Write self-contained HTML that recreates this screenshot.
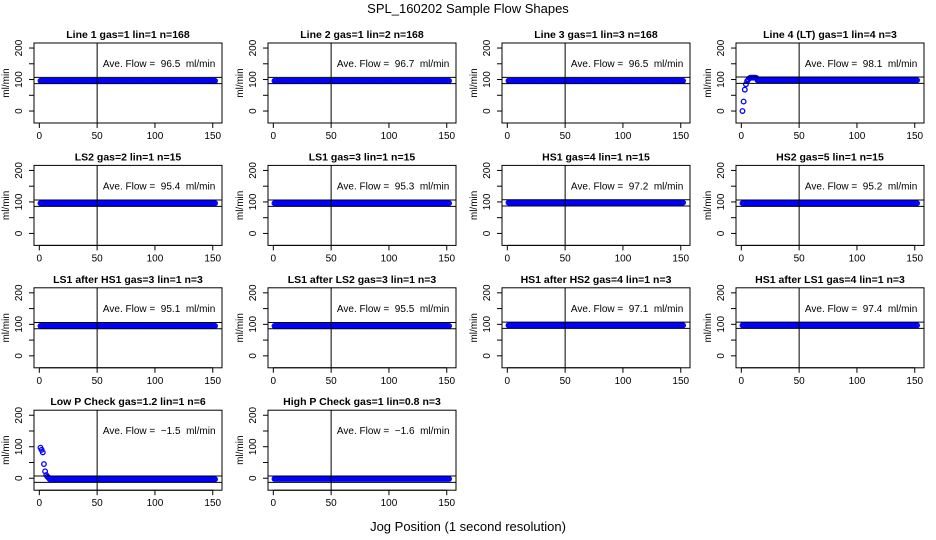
<!DOCTYPE html>
<html><head><meta charset="utf-8"><style>
html,body{margin:0;padding:0;background:#fff;}
svg{display:block;font-family:"Liberation Sans",sans-serif;}
</style></head><body>
<svg id="chart" width="936" height="540" viewBox="0 0 936 540">
<text x="468" y="13" text-anchor="middle" font-size="13">SPL_160202  Sample Flow Shapes</text>
<text x="468" y="531" text-anchor="middle" font-size="13">Jog Position (1 second resolution)</text>
</svg>
<script>
// panel titles
const titles = ["Line 1 gas=1 lin=1 n=168","Line 2 gas=1 lin=2 n=168","Line 3 gas=1 lin=3 n=168","Line 4 (LT) gas=1 lin=4 n=3",
"LS2 gas=2 lin=1 n=15","LS1 gas=3 lin=1 n=15","HS1 gas=4 lin=1 n=15","HS2 gas=5 lin=1 n=15",
"LS1 after HS1 gas=3 lin=1 n=3","LS1 after LS2 gas=3 lin=1 n=3","HS1 after HS2 gas=4 lin=1 n=3","HS1 after LS1 gas=4 lin=1 n=3",
"Low P Check gas=1.2 lin=1 n=6","High P Check gas=1 lin=0.8 n=3"];
// average flow printed values
const aves = [96.5,96.7,96.5,98.1,95.4,95.3,97.2,95.2,95.1,95.5,97.1,97.4,-1.5,-1.6];
// startup (head) values for each panel, then steady level
const heads = [[],[],[],[0,30,68,85,95,100,104,106,106,106,106,106,105],[],[],[],[],[],[],[],[],[97,90,82,45,22,10,5,2],[]];
const levels = [96,96,96,98,96,96,98,96,95,95,97,97,-3,-2];
// reference band lines
const bandHi = [107,107,107,108,106,106,107,106,106,106,107,107,7,7];
const bandLo = [87,87,87,88,86,86,87,86,86,86,87,87,-13,-13];
const nPoints = 152;
const xTicks = [0,50,100,150];
const yTicks = [0,50,100,150,200];
const yLabels = [0,100,200];

const svg = document.getElementById('chart');
const NS = 'http://www.w3.org/2000/svg';
function mk(tag, attrs, parent){const e=document.createElementNS(NS,tag);for(const k in attrs)e.setAttribute(k,attrs[k]);(parent||svg).appendChild(e);return e;}

const X0=-4.6,X1=158,Y0=-38,Y1=216;
titles.forEach((t,i)=>{
  const col=i%4,row=Math.floor(i/4);
  const L=34+col*234,R=222+col*234,T=43+row*122.4,B=123+row*122.4;
  const sx=v=>L+(v-X0)/(X1-X0)*(R-L);
  const sy=v=>B-(v-Y0)/(Y1-Y0)*(B-T);
  const g=mk('g',{});
  
  
  const tt=mk('text',{x:(L+R)/2,y:T-5,'text-anchor':'middle','font-size':'10.5','font-weight':'bold'},g);
  tt.textContent=t;
  
  
  const vals=heads[i].concat(Array(nPoints-heads[i].length).fill(levels[i]));
  const pg=mk('g',{fill:'none',stroke:'#0000ff','stroke-width':'1.3'},g);
  
  
  vals.forEach((v,k)=>{
    const c=mk('circle',{cx:sx(k+1),cy:sy(v),r:2.3},pg);
    
    
  });
  [bandHi[i],bandLo[i]].forEach(v=>{
    const l=mk('line',{x1:L,x2:R,y1:sy(v),y2:sy(v),stroke:'#000','stroke-width':'1'},g);
    
    
  });
  const vl=mk('line',{x1:sx(50),x2:sx(50),y1:T,y2:B,stroke:'#000','stroke-width':'1'},g);
  
  
  const box=mk('rect',{x:L,y:T,width:R-L,height:B-T,fill:'none',stroke:'#000','stroke-width':'1'},g);
  
  
  xTicks.forEach(v=>{
    mk('line',{x1:sx(v),x2:sx(v),y1:B,y2:B+5,stroke:'#000'},g);
    const tx=mk('text',{x:sx(v),y:B+16,'text-anchor':'middle','font-size':'10'},g);
    tx.textContent=v;
    
    
  });
  mk('line',{x1:sx(0),x2:sx(150),y1:B,y2:B,stroke:'#000'},g);
  yTicks.forEach(v=>{mk('line',{x1:L-5,x2:L,y1:sy(v),y2:sy(v),stroke:'#000'},g);});
  yLabels.forEach(v=>{
    const ty=mk('text',{x:L-12,y:sy(v),'text-anchor':'middle','font-size':'10',transform:`rotate(-90 ${L-12} ${sy(v)})`},g);
    ty.textContent=v;
    
    
  });
  const yl=mk('text',{x:L-25,y:(T+B)/2,'text-anchor':'middle','font-size':'10',transform:`rotate(-90 ${L-25} ${(T+B)/2})`},g);
  yl.textContent='ml/min';
  
  
  const an=mk('text',{x:sx(55),y:T+24,'font-size':'10'},g);
  an.textContent='Ave. Flow =  '+aves[i].toFixed(1).replace('-','\u2212')+'  ml/min';
  an.style.whiteSpace='pre';
  
  
});
</script>
</body></html>
